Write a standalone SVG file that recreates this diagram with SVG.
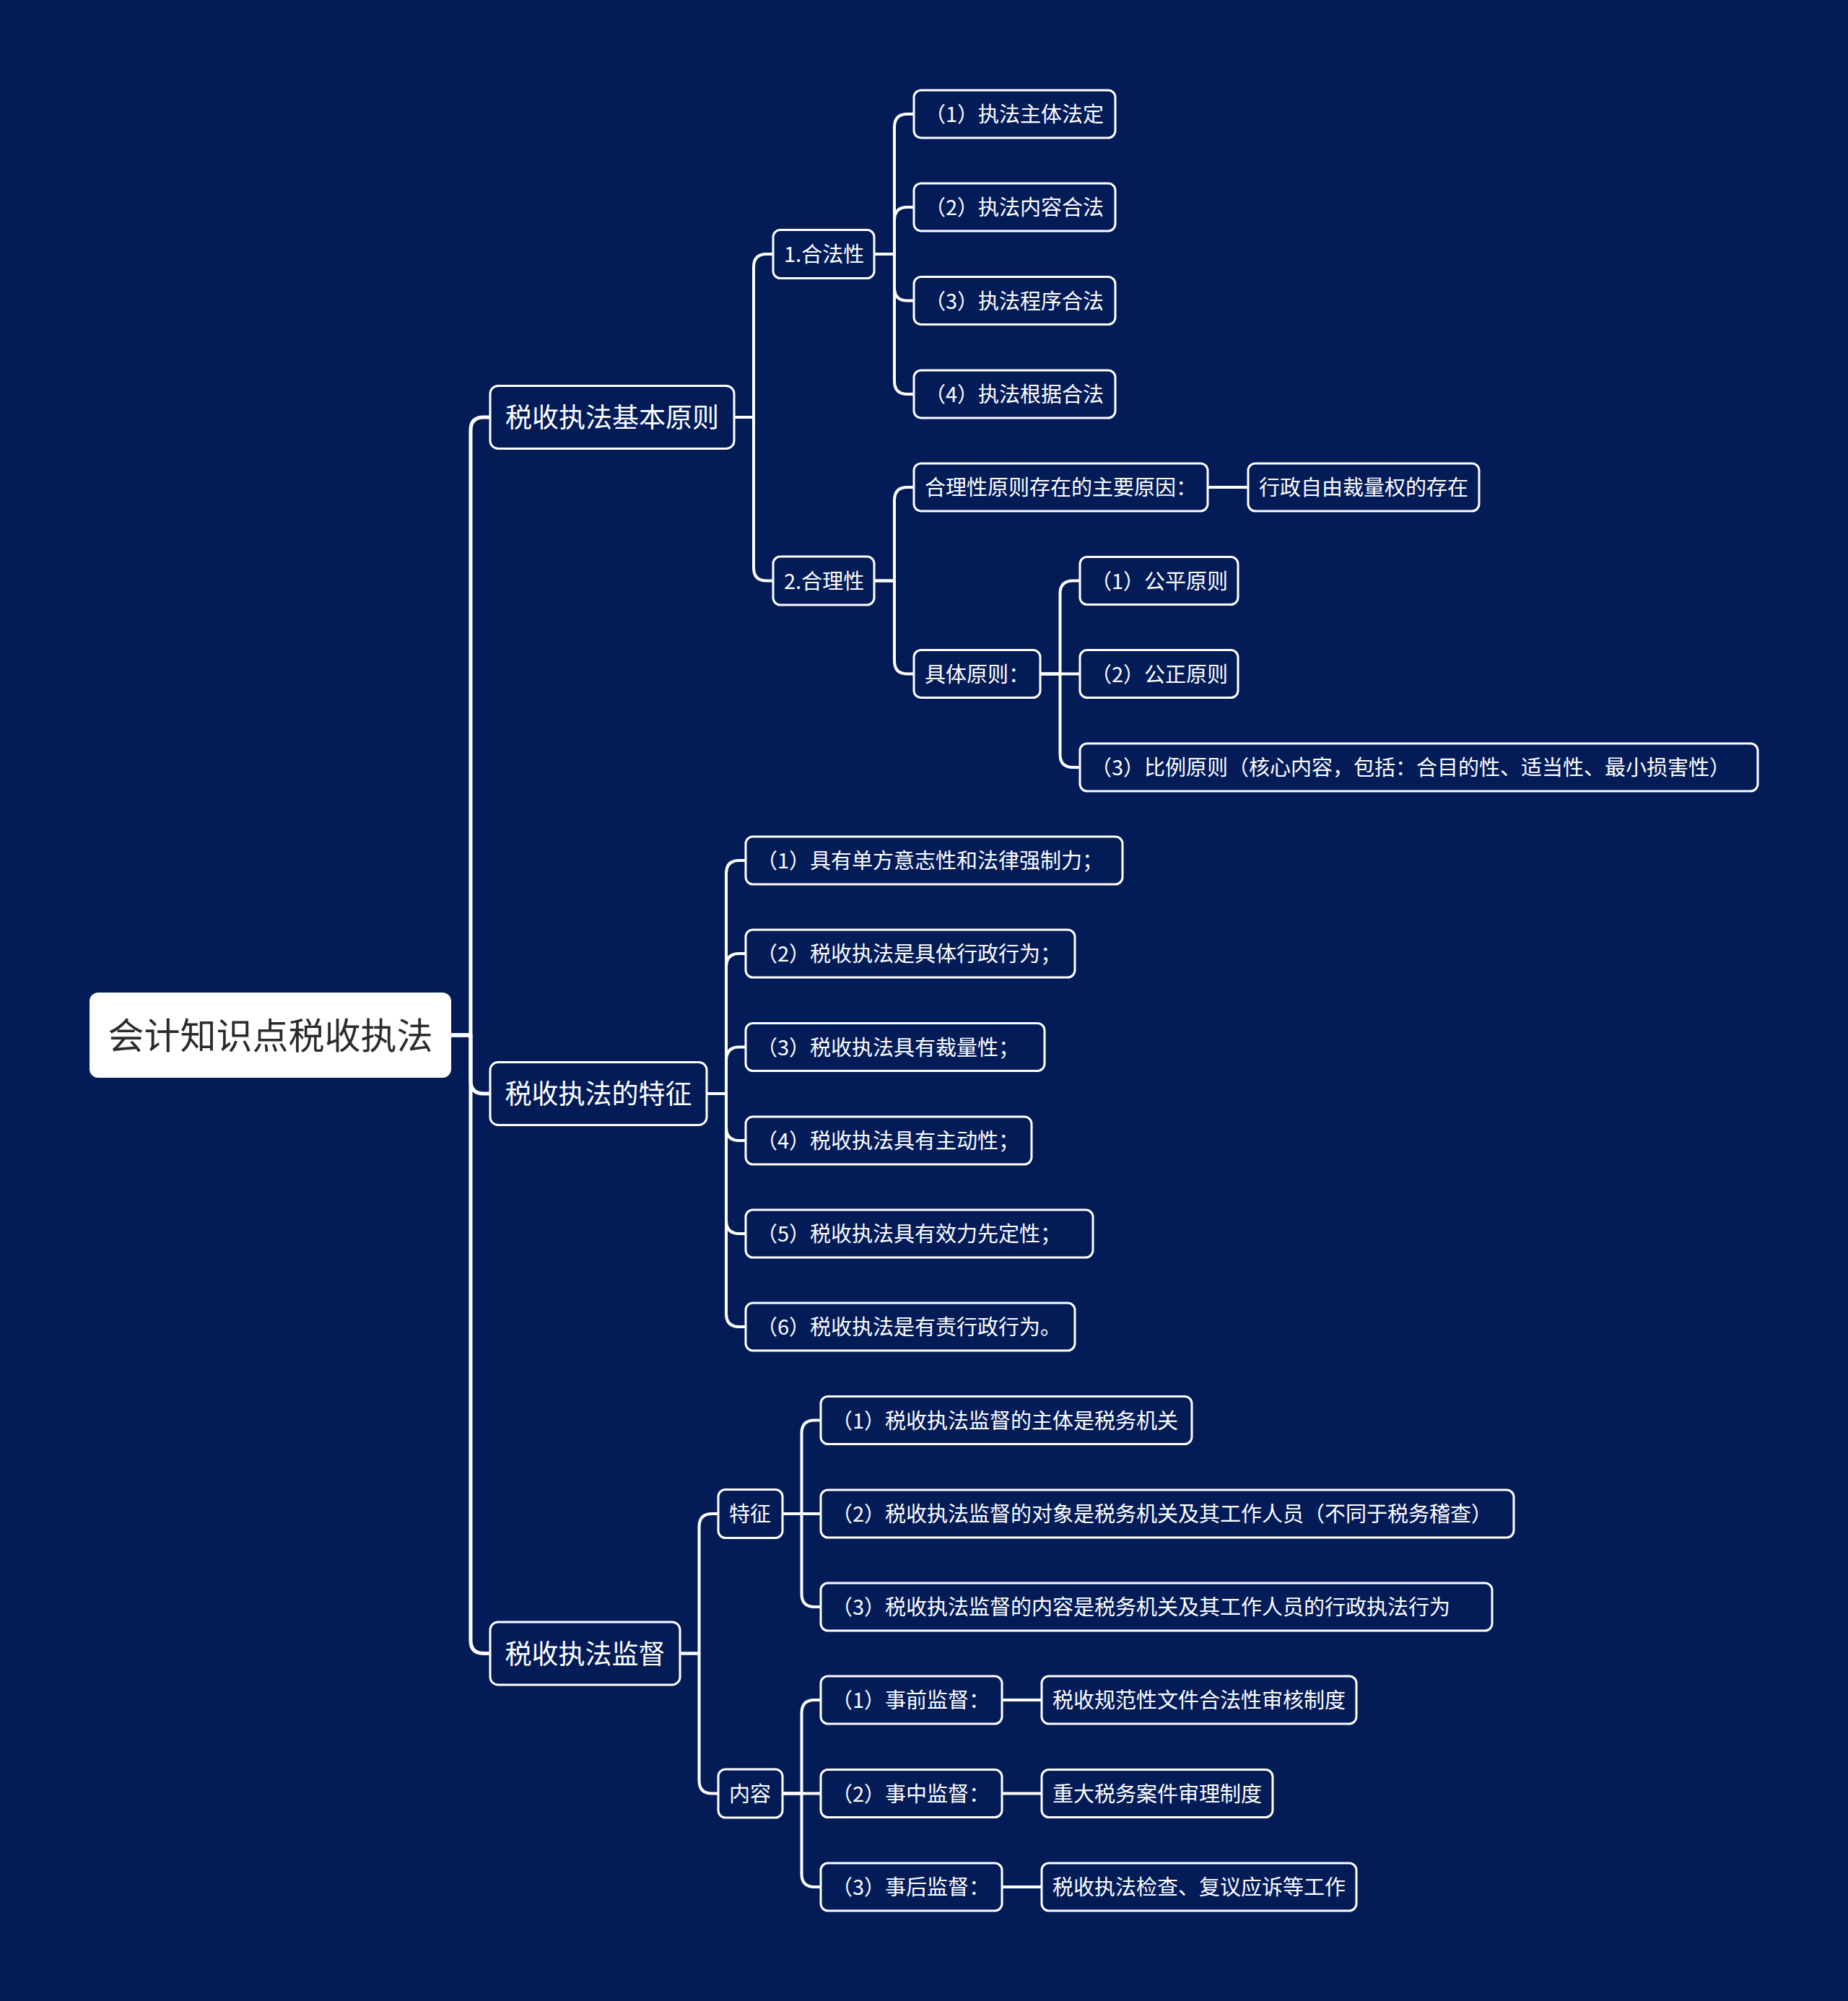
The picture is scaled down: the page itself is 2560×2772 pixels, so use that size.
<svg xmlns="http://www.w3.org/2000/svg" width="2560" height="2772" viewBox="0 0 2560 2772">
<style>
.bg{fill:#031c58}
.box{fill:#031c58;stroke:#ffffff;stroke-width:3}
.root{fill:#ffffff;stroke:none}
.t{font-family:"Noto Sans CJK SC","Noto Sans",sans-serif;fill:#ffffff}
.s{font-size:29px}
.m{font-size:37px}
.r{font-size:50px;fill:#2b2b2b}
.c{fill:none;stroke:#ffffff;stroke-width:4;stroke-linecap:round;stroke-linejoin:round}
.c0{stroke-width:5}
</style>
<rect class="bg" x="0" y="0" width="2560" height="2772"/>
<g id="connectors">
<path class="c c0" d="M625 1434 H652 V596 Q652 578 670 578 H679"/>
<path class="c c0" d="M625 1434 H652 V1497 Q652 1515 670 1515 H679"/>
<path class="c c0" d="M625 1434 H652 V2272.5 Q652 2290.5 670 2290.5 H679"/>
<path class="c" d="M1017 578 H1044 V370 Q1044 352 1062 352 H1071"/>
<path class="c" d="M1017 578 H1044 V786.5 Q1044 804.5 1062 804.5 H1071"/>
<path class="c" d="M1211 352 H1239 V176 Q1239 158 1257 158 H1266"/>
<path class="c" d="M1211 352 H1239 V305 Q1239 287 1257 287 H1266"/>
<path class="c" d="M1211 352 H1239 V398.5 Q1239 416.5 1257 416.5 H1266"/>
<path class="c" d="M1211 352 H1239 V528 Q1239 546 1257 546 H1266"/>
<path class="c" d="M1211 804.5 H1239 V693 Q1239 675 1257 675 H1266"/>
<path class="c" d="M1211 804.5 H1239 V915.5 Q1239 933.5 1257 933.5 H1266"/>
<path class="c" d="M1673 675 H1729"/>
<path class="c" d="M1441 933.5 H1468.5 V822.5 Q1468.5 804.5 1486.5 804.5 H1496"/>
<path class="c" d="M1441 933.5 H1496"/>
<path class="c" d="M1441 933.5 H1468.5 V1045 Q1468.5 1063 1486.5 1063 H1496"/>
<path class="c" d="M979 1515 H1006 V1210 Q1006 1192 1024 1192 H1033"/>
<path class="c" d="M979 1515 H1006 V1339 Q1006 1321 1024 1321 H1033"/>
<path class="c" d="M979 1515 H1006 V1468.5 Q1006 1450.5 1024 1450.5 H1033"/>
<path class="c" d="M979 1515 H1006 V1562 Q1006 1580 1024 1580 H1033"/>
<path class="c" d="M979 1515 H1006 V1691 Q1006 1709 1024 1709 H1033"/>
<path class="c" d="M979 1515 H1006 V1820 Q1006 1838 1024 1838 H1033"/>
<path class="c" d="M942 2290.5 H968.5 V2115 Q968.5 2097 986.5 2097 H995"/>
<path class="c" d="M942 2290.5 H968.5 V2466.5 Q968.5 2484.5 986.5 2484.5 H995"/>
<path class="c" d="M1084 2097 H1110.5 V1985.5 Q1110.5 1967.5 1128.5 1967.5 H1137"/>
<path class="c" d="M1084 2097 H1137"/>
<path class="c" d="M1084 2097 H1110.5 V2208 Q1110.5 2226 1128.5 2226 H1137"/>
<path class="c" d="M1084 2484.5 H1110.5 V2373 Q1110.5 2355 1128.5 2355 H1137"/>
<path class="c" d="M1084 2484.5 H1137"/>
<path class="c" d="M1084 2484.5 H1110.5 V2596 Q1110.5 2614 1128.5 2614 H1137"/>
<path class="c" d="M1388 2355 H1443"/>
<path class="c" d="M1388 2484.5 H1443"/>
<path class="c" d="M1388 2614 H1443"/>
</g>
<g id="root"><rect class="root" x="124" y="1375" width="501" height="118" rx="12"/><text class="t r" x="374.5" y="1453" text-anchor="middle">会计知识点税收执法</text></g>
<g id="n-a"><rect class="box" x="679" y="534.5" width="338" height="87" rx="11"/><text class="t m" x="848" y="592" text-anchor="middle">税收执法基本原则</text></g>
<g id="n-b"><rect class="box" x="679" y="1471.5" width="300" height="87" rx="11"/><text class="t m" x="829" y="1529" text-anchor="middle">税收执法的特征</text></g>
<g id="n-c"><rect class="box" x="679" y="2247" width="263" height="87" rx="11"/><text class="t m" x="810.5" y="2304.5" text-anchor="middle">税收执法监督</text></g>
<g id="n-a1"><rect class="box" x="1071" y="318.5" width="140" height="67" rx="10"/><text class="t s" x="1086" y="363">1.合法性</text></g>
<g id="n-a2"><rect class="box" x="1071" y="771" width="140" height="67" rx="10"/><text class="t s" x="1086" y="815.5">2.合理性</text></g>
<g id="n-a1-1"><rect class="box" x="1266" y="125" width="279" height="66" rx="10"/><text class="t s" x="1281" y="169">（1）执法主体法定</text></g>
<g id="n-a1-2"><rect class="box" x="1266" y="254" width="279" height="66" rx="10"/><text class="t s" x="1281" y="298">（2）执法内容合法</text></g>
<g id="n-a1-3"><rect class="box" x="1266" y="383.5" width="279" height="66" rx="10"/><text class="t s" x="1281" y="427.5">（3）执法程序合法</text></g>
<g id="n-a1-4"><rect class="box" x="1266" y="513" width="279" height="66" rx="10"/><text class="t s" x="1281" y="557">（4）执法根据合法</text></g>
<g id="n-a2-1"><rect class="box" x="1266" y="642" width="407" height="66" rx="10"/><text class="t s" x="1281" y="686">合理性原则存在的主要原因：</text></g>
<g id="n-a2-1-1"><rect class="box" x="1729" y="642" width="320" height="66" rx="10"/><text class="t s" x="1744" y="686">行政自由裁量权的存在</text></g>
<g id="n-a2-2"><rect class="box" x="1266" y="900.5" width="175" height="66" rx="10"/><text class="t s" x="1281" y="944.5">具体原则：</text></g>
<g id="n-a2-2-1"><rect class="box" x="1496" y="771.5" width="219" height="66" rx="10"/><text class="t s" x="1511" y="815.5">（1）公平原则</text></g>
<g id="n-a2-2-2"><rect class="box" x="1496" y="900.5" width="219" height="66" rx="10"/><text class="t s" x="1511" y="944.5">（2）公正原则</text></g>
<g id="n-a2-2-3"><rect class="box" x="1496" y="1030" width="939" height="66" rx="10"/><text class="t s" x="1511" y="1074">（3）比例原则（核心内容，包括：合目的性、适当性、最小损害性）</text></g>
<g id="n-b1"><rect class="box" x="1033" y="1159" width="522" height="66" rx="10"/><text class="t s" x="1048" y="1203">（1）具有单方意志性和法律强制力；</text></g>
<g id="n-b2"><rect class="box" x="1033" y="1288" width="456" height="66" rx="10"/><text class="t s" x="1048" y="1332">（2）税收执法是具体行政行为；</text></g>
<g id="n-b3"><rect class="box" x="1033" y="1417.5" width="414" height="66" rx="10"/><text class="t s" x="1048" y="1461.5">（3）税收执法具有裁量性；</text></g>
<g id="n-b4"><rect class="box" x="1033" y="1547" width="396" height="66" rx="10"/><text class="t s" x="1048" y="1591">（4）税收执法具有主动性；</text></g>
<g id="n-b5"><rect class="box" x="1033" y="1676" width="481" height="66" rx="10"/><text class="t s" x="1048" y="1720">（5）税收执法具有效力先定性；</text></g>
<g id="n-b6"><rect class="box" x="1033" y="1805" width="456" height="66" rx="10"/><text class="t s" x="1048" y="1849">（6）税收执法是有责行政行为。</text></g>
<g id="n-c1"><rect class="box" x="995" y="2063.5" width="89" height="67" rx="10"/><text class="t s" x="1010" y="2108">特征</text></g>
<g id="n-c2"><rect class="box" x="995" y="2451" width="89" height="67" rx="10"/><text class="t s" x="1010" y="2495.5">内容</text></g>
<g id="n-c1-1"><rect class="box" x="1137" y="1934.5" width="514" height="66" rx="10"/><text class="t s" x="1152" y="1978.5">（1）税收执法监督的主体是税务机关</text></g>
<g id="n-c1-2"><rect class="box" x="1137" y="2064" width="960" height="66" rx="10"/><text class="t s" x="1152" y="2108">（2）税收执法监督的对象是税务机关及其工作人员（不同于税务稽查）</text></g>
<g id="n-c1-3"><rect class="box" x="1137" y="2193" width="930" height="66" rx="10"/><text class="t s" x="1152" y="2237">（3）税收执法监督的内容是税务机关及其工作人员的行政执法行为</text></g>
<g id="n-c2-1"><rect class="box" x="1137" y="2322" width="251" height="66" rx="10"/><text class="t s" x="1152" y="2366">（1）事前监督：</text></g>
<g id="n-c2-1-1"><rect class="box" x="1443" y="2322" width="436" height="66" rx="10"/><text class="t s" x="1458" y="2366">税收规范性文件合法性审核制度</text></g>
<g id="n-c2-2"><rect class="box" x="1137" y="2451.5" width="251" height="66" rx="10"/><text class="t s" x="1152" y="2495.5">（2）事中监督：</text></g>
<g id="n-c2-2-1"><rect class="box" x="1443" y="2451.5" width="320" height="66" rx="10"/><text class="t s" x="1458" y="2495.5">重大税务案件审理制度</text></g>
<g id="n-c2-3"><rect class="box" x="1137" y="2581" width="251" height="66" rx="10"/><text class="t s" x="1152" y="2625">（3）事后监督：</text></g>
<g id="n-c2-3-1"><rect class="box" x="1443" y="2581" width="436" height="66" rx="10"/><text class="t s" x="1458" y="2625">税收执法检查、复议应诉等工作</text></g>
</svg>
